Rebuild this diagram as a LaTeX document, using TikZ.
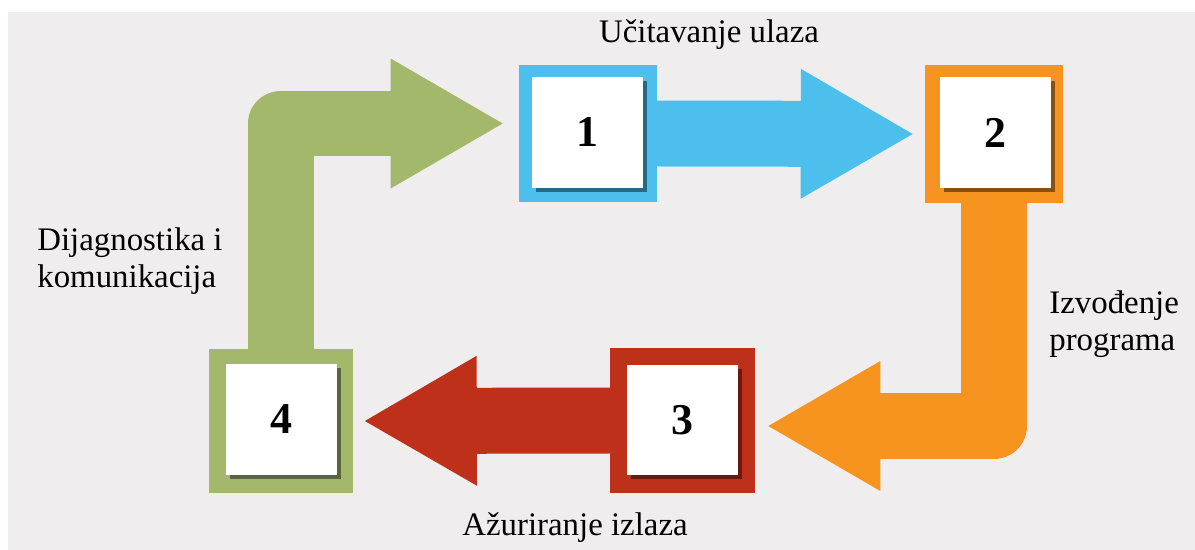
\documentclass[tikz,border=0pt]{standalone}
\usepackage{fontspec}
\setmainfont{Liberation Serif}
\usepackage{tikz}
\usetikzlibrary{arrows.meta,shadows,backgrounds}
\definecolor{bgray}{RGB}{239,237,238}
\definecolor{cblue}{RGB}{76,191,236}
\definecolor{corange}{RGB}{247,148,32}
\definecolor{cred}{RGB}{190,48,26}
\definecolor{cgreen}{RGB}{163,184,106}

\begin{document}
\begin{tikzpicture}[x=0.02cm,y=-0.02cm,
	frame/.style={fill=#1,inner sep=0pt,minimum size=2.76cm},
	numbox/.style={fill=white,inner sep=0pt,minimum size=2.22cm,font=\fontsize{25}{30}\selectfont\bfseries,
		drop shadow={shadow xshift=0.08cm,shadow yshift=-0.08cm,fill=black,opacity=0.45}},
	blockarrow/.style={#1,line width=1.32cm,line join=round,line cap=rect,
		-{Triangle[length=2.24cm,width=2.6cm,line width=0pt]}},
	lbl/.style={font=\fontsize{18.7}{21}\selectfont,inner sep=0pt,align=left}]
\useasboundingbox (0,0) rectangle (1195,550);
\node (f1) [frame=cblue] at (588,133.5) {};
\node (f2) [frame=corange] at (994,134) {};
\node (f3) [frame=cred,minimum size=2.9cm] at (682.5,420.5) {};
\node (f4) [frame=cgreen,minimum size=2.9cm] at (281,421) {};
\node (n1) [numbox] at (587.5,132.5) {1};
\node (n2) [numbox] at (995,132.5) {2};
\node (n3) [numbox] at (682,420) {3};
\node (n4) [numbox] at (281.5,419.5) {4};
\begin{scope}[on background layer]
\fill[bgray] (8,12) rectangle (1195,550);
\draw[blockarrow=cblue] (f1.east) -- ([xshift=-0.24cm]f2.west);
\draw[blockarrow=corange] (f2.south) |- ([xshift=0.26cm,yshift=-0.11cm]f3.east);
\draw[blockarrow=cred] (f3.west) -- ([xshift=0.22cm]f4.east);
\draw[blockarrow=cgreen] (f4.north) |- ([xshift=-0.32cm,yshift=0.2cm]f1.west);
\end{scope}
\node (t1) [lbl] at (709,35) {Učitavanje ulaza};
\node (t2) [lbl,anchor=west] at (1049,324) {Izvođenje\\programa};
\node (t3) [lbl] at (575,528) {Ažuriranje izlaza};
\node (t4) [lbl,anchor=west] at (37,261) {Dijagnostika i\\komunikacija};
\end{tikzpicture}
\end{document}
